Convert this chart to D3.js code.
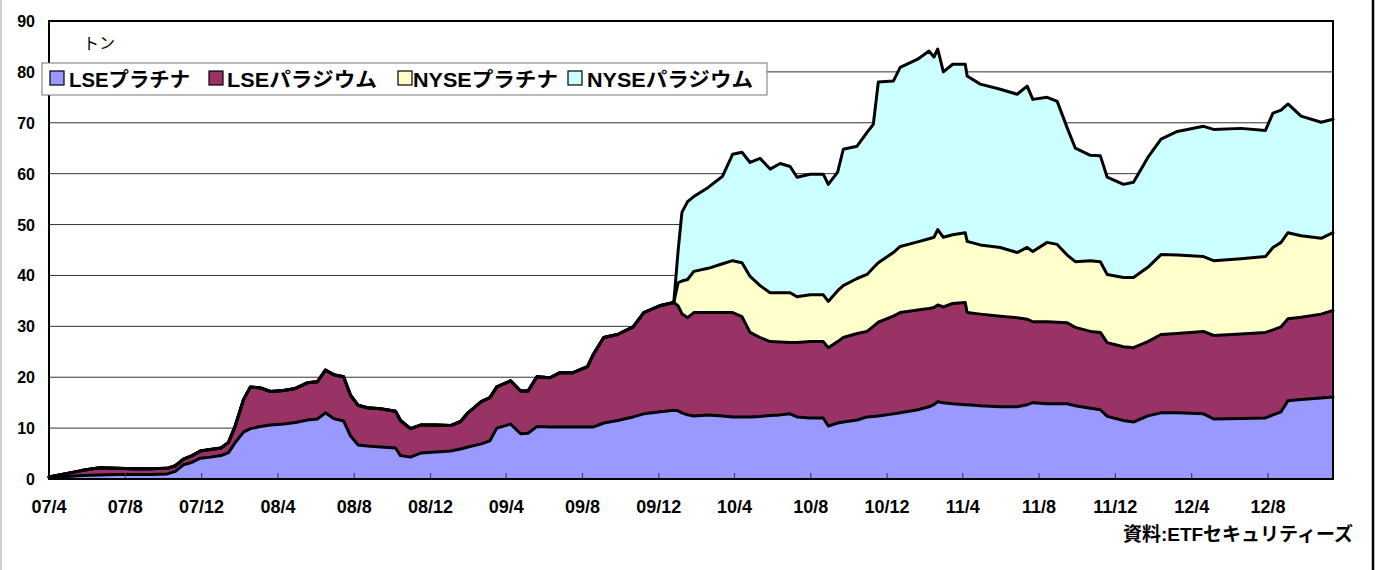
<!DOCTYPE html>
<html><head><meta charset="utf-8">
<script src="https://cdn.jsdelivr.net/npm/d3@7"></script>
<style>
html,body{margin:0;padding:0;background:#fff;}
svg{display:block;}
</style></head>
<body>
<svg id="chart" width="1375" height="570"></svg>
<script>
// ---- data (tonnes) ----
const dates = ["2007-04-01","2007-04-30","2007-05-25","2007-06-21","2007-07-18","2007-08-13","2007-09-10","2007-10-07","2007-10-20","2007-11-02",
"2007-11-16","2007-11-29","2007-12-15","2008-01-01","2008-01-13","2008-01-24","2008-02-06","2008-02-17","2008-03-04","2008-03-20",
"2008-04-10","2008-04-29","2008-05-18","2008-06-03","2008-06-16","2008-06-29","2008-07-15","2008-07-26","2008-08-07","2008-08-22",
"2008-09-12","2008-10-06","2008-10-14","2008-10-30","2008-11-15","2008-12-09","2009-01-02","2009-01-18","2009-01-30","2009-02-20",
"2009-03-06","2009-03-17","2009-04-08","2009-04-24","2009-05-06","2009-05-20","2009-06-10","2009-06-26","2009-07-17","2009-08-09",
"2009-08-18","2009-09-04","2009-09-26","2009-10-21","2009-11-07","2009-12-04","2009-12-25","2010-01-01","2010-01-07","2010-01-16",
"2010-01-26","2010-02-18","2010-03-13","2010-03-29","2010-04-13","2010-04-26","2010-05-12","2010-05-28","2010-06-13","2010-06-29",
"2010-07-10","2010-07-31","2010-08-21","2010-08-29","2010-09-13","2010-09-22","2010-10-14","2010-10-30","2010-11-09","2010-11-17",
"2010-12-11","2010-12-22","2011-01-19","2011-02-06","2011-02-14","2011-02-20","2011-03-01","2011-03-16","2011-04-05","2011-04-08",
"2011-04-29","2011-05-31","2011-06-27","2011-07-13","2011-07-22","2011-08-14","2011-08-30","2011-09-15","2011-09-28","2011-10-22",
"2011-11-07","2011-11-18","2011-12-14","2011-12-30","2012-01-22","2012-02-12","2012-03-09","2012-04-20","2012-05-06","2012-06-19",
"2012-07-28","2012-08-09","2012-08-22","2012-09-02","2012-09-23","2012-10-25","2012-11-13"];

const lsePlatinum = [0.3,0.5,0.7,0.8,0.9,0.9,0.9,1.0,1.5,2.8,
3.3,4.1,4.3,4.6,5.2,7.2,9.2,9.9,10.3,10.6,
10.8,11.1,11.6,11.8,13.0,11.9,11.4,8.5,6.7,6.5,
6.3,6.1,4.6,4.3,5.1,5.3,5.5,5.9,6.3,6.9,
7.5,10.0,10.8,8.9,9.0,10.3,10.2,10.2,10.2,10.2,
10.2,11.0,11.5,12.2,12.8,13.2,13.5,13.4,13.0,12.6,
12.4,12.6,12.4,12.2,12.2,12.2,12.3,12.5,12.6,12.8,
12.2,12.0,12.0,10.4,11.0,11.2,11.6,12.2,12.3,12.4,
12.8,13.0,13.6,14.2,14.6,15.2,15.0,14.8,14.6,14.6,
14.4,14.2,14.2,14.6,15.0,14.8,14.8,14.8,14.4,13.9,
13.6,12.3,11.5,11.2,12.4,13.0,13.0,12.8,11.8,11.9,
12.0,12.6,13.2,15.4,15.6,15.9,16.1];

const lsePalladium = [0.1,0.6,1.0,1.4,1.2,1.1,1.1,1.1,1.1,1.1,
1.3,1.4,1.5,1.5,2.0,3.3,6.4,8.2,7.6,6.6,
6.6,6.7,7.3,7.3,8.4,8.6,8.7,8.0,7.8,7.5,
7.5,7.2,6.9,5.6,5.5,5.3,5.0,5.4,6.7,8.3,
8.5,8.1,8.5,8.4,8.3,9.8,9.7,10.7,10.7,11.9,
14.2,16.8,16.9,17.7,19.9,20.9,21.2,20.6,19.5,19.1,
20.3,20.1,20.3,20.5,19.7,16.6,15.5,14.5,14.3,14.0,
14.6,15.0,15.0,15.4,16.0,16.6,17.0,16.8,17.7,18.4,
19.2,19.7,19.6,19.3,19.1,19.0,18.8,19.7,20.1,18.1,
18.0,17.8,17.5,16.8,15.9,16.1,16.0,15.9,15.4,15.1,
15.2,14.5,14.5,14.6,14.6,15.4,15.6,16.2,16.4,16.6,
16.8,16.7,16.7,16.1,16.2,16.5,17.0];

const nysePlatinum = [0,0,0,0,0,0,0,0,0,0,
0,0,0,0,0,0,0,0,0,0,
0,0,0,0,0,0,0,0,0,0,
0,0,0,0,0,0,0,0,0,0,
0,0,0,0,0,0,0,0,0,0,
0,0,0,0,0,0,0,4.6,6.4,7.5,
8.1,8.7,9.6,10.2,10.6,11.0,10.2,9.6,9.7,9.8,
9.0,9.2,9.2,9.1,10.0,10.2,10.8,11.2,11.5,11.7,
12.5,13.0,13.4,13.7,13.8,14.8,13.7,13.5,13.7,14.0,
13.6,13.5,12.8,14.1,13.8,15.6,15.3,13.3,12.9,13.9,
13.9,13.4,13.6,13.8,14.6,15.7,15.4,14.7,14.7,14.8,
14.9,16.2,16.6,16.9,16.0,14.9,15.3];

const nysePalladium = [0,0,0,0,0,0,0,0,0,0,
0,0,0,0,0,0,0,0,0,0,
0,0,0,0,0,0,0,0,0,0,
0,0,0,0,0,0,0,0,0,0,
0,0,0,0,0,0,0,0,0,0,
0,0,0,0,0,0,0,6.4,13.5,15.3,
14.7,15.9,17.2,20.9,21.7,22.4,25.0,24.3,25.4,24.8,
23.5,23.7,23.7,23.0,23.3,26.8,26.0,27.9,28.2,35.5,
33.7,35.2,35.9,36.9,35.4,35.5,32.5,33.5,33.1,32.5,
31.6,31.1,31.1,31.7,29.9,28.5,28.1,25.0,22.3,20.7,
20.8,19.1,18.3,18.7,21.6,22.7,24.3,25.6,25.8,25.6,
24.8,26.4,26.0,25.3,23.5,22.8,22.3];

const seriesNames = ["LSEプラチナ","LSEパラジウム","NYSEプラチナ","NYSEパラジウム"];
const seriesColors = ["#9999FF","#993366","#FFFFCC","#CCFFFF"];
const tickLabels = ["07/4","07/8","07/12","08/4","08/8","08/12","09/4","09/8","09/12","10/4","10/8","10/12","11/4","11/8","11/12","12/4","12/8"];
const yTicks = [0,10,20,30,40,50,60,70,80,90];
const unitLabel = "トン";
const sourceLabel = "資料:ETFセキュリティーズ";

// ---- build ----
const parse = d3.timeParse("%Y-%m-%d");
const keys = ["lsePt","lsePd","nysePt","nysePd"];
const rows = dates.map((d,i)=>({date:parse(d), lsePt:lsePlatinum[i], lsePd:lsePalladium[i], nysePt:nysePlatinum[i], nysePd:nysePalladium[i]}));
const tickDates = tickLabels.map(t=>{const [yy,mm]=t.split("/");return new Date(2000+(+yy), (+mm)-1, 1);});

const svg = d3.select("#chart");
const L=49, R=1333, T=21, B=479;
const x = d3.scaleTime().domain([rows[0].date, rows[rows.length-1].date]).range([L,R]);
const y = d3.scaleLinear().domain([0,90]).range([B,T]);

// outer border
svg.append("line").attr("x1",1).attr("x2",1).attr("y1",0).attr("y2",570).attr("stroke","#d0d0d0").attr("stroke-width",2);
svg.append("line").attr("x1",1373).attr("x2",1373).attr("y1",0).attr("y2",570).attr("stroke","#000").attr("stroke-width",2.5);

// gridlines
svg.append("g").selectAll("line").data(yTicks.filter(v=>v>0&&v<90)).join("line")
  .attr("x1",L).attr("x2",R).attr("y1",d=>y(d)).attr("y2",d=>y(d))
  .attr("stroke","#333").attr("stroke-width",1);

const stack = d3.stack().keys(keys);
const layers = stack(rows);
const area = d3.area().x(d=>x(d.data.date)).y0(d=>y(d[0])).y1(d=>y(d[1]));
const topLine = d3.line().x(d=>x(d.data.date)).y(d=>y(d[1]));

svg.append("g").selectAll("path").data(layers).join("path")
  .attr("d",area).attr("fill",(d,i)=>seriesColors[i]).attr("stroke","none");
svg.append("g").selectAll("path").data(layers).join("path")
  .attr("d",topLine).attr("fill","none").attr("stroke","#000").attr("stroke-width",3)
  .attr("stroke-linejoin","round").attr("stroke-linecap","round");

// x ticks (inward)
svg.append("g").selectAll("line").data(tickDates).join("line")
  .attr("x1",d=>x(d)).attr("x2",d=>x(d)).attr("y1",B).attr("y2",B-6)
  .attr("stroke","#444").attr("stroke-width",1.2);

// frame
svg.append("rect").attr("x",L).attr("y",T).attr("width",R-L).attr("height",B-T)
  .attr("fill","none").attr("stroke","#000").attr("stroke-width",2);

// axis labels
const axFont = "'Liberation Sans', Arial, sans-serif";
svg.append("g").selectAll("text").data(yTicks).join("text")
  .attr("x",35).attr("y",d=>y(d)+6).attr("text-anchor","end")
  .attr("font-family",axFont).attr("font-weight","bold").attr("font-size",16)
  .text(d=>d);
svg.append("g").selectAll("text").data(tickDates).join("text")
  .attr("x",d=>x(d)).attr("y",513).attr("text-anchor","middle")
  .attr("font-family",axFont).attr("font-weight","bold").attr("font-size",18)
  .text((d,i)=>tickLabels[i]);

// unit label
svg.append("text").attr("x",83).attr("y",49)
  .attr("font-family","'Noto Sans CJK JP', sans-serif").attr("font-size",16)
  .text(unitLabel);

// legend
const lg = svg.append("g");
lg.append("rect").attr("x",42).attr("y",63).attr("width",725).attr("height",32)
  .attr("fill","#fff").attr("stroke","#777").attr("stroke-width",1);
const swX = [50,209,398,568], txX = [69,227,413,587], txW = [121,150,145,166];
seriesNames.forEach((n,i)=>{
  lg.append("rect").attr("x",swX[i]).attr("y",71).attr("width",14).attr("height",14)
    .attr("fill",seriesColors[i]).attr("stroke","#000").attr("stroke-width",1.2);
  lg.append("text").attr("x",txX[i]).attr("y",87)
    .attr("font-family","'Liberation Sans', 'Noto Sans CJK JP', sans-serif")
    .attr("font-weight","bold").attr("font-size",20)
    .attr("textLength",txW[i]).attr("lengthAdjust","spacingAndGlyphs").text(n);
});

// source
svg.append("text").attr("x",1353).attr("y",541).attr("text-anchor","end")
  .attr("font-family","'Liberation Sans', 'Noto Sans CJK JP', sans-serif")
  .attr("font-weight","bold").attr("font-size",19).text(sourceLabel);
</script>
</body></html>
